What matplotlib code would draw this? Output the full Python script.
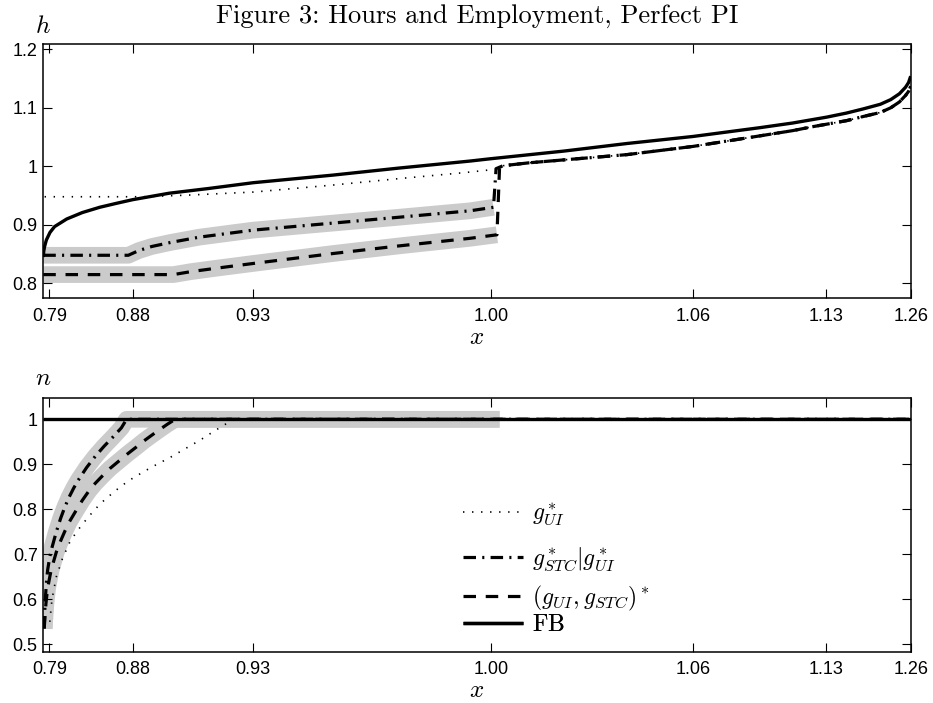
import numpy as np
import matplotlib
matplotlib.use("Agg")
import matplotlib.pyplot as plt
from matplotlib.lines import Line2D

plt.rcParams['font.family'] = ['Liberation Sans', 'DejaVu Sans']
plt.rcParams['mathtext.fontset'] = 'cm'
plt.rcParams['lines.scale_dashes'] = False

# ---------------- data ----------------
# x axis: position along the x grid (0..100), labelled with x values
x_tick_pos = [0.69, 10.34, 24.21, 51.61, 74.94, 90.2, 100.0]
x_tick_labels = ['0.79', '0.88', '0.93', '1.00', '1.06', '1.13', '1.26']

h_ticks = [0.8, 0.9, 1.0, 1.1, 1.2]
h_tick_labels = ['0.8', '0.9', '1', '1.1', '1.2']
n_ticks = [0.5, 0.6, 0.7, 0.8, 0.9, 1.0]
n_tick_labels = ['0.5', '0.6', '0.7', '0.8', '0.9', '1']

# hours, top panel
h_fb_pos = [0, 0.05, 0.15, 0.35, 0.77, 1.3, 2.7, 4.5, 6.5, 8.5, 10.3, 14.5, 19, 24.2,
            33.4, 41, 49.2, 51.6, 60, 67.3, 74.9, 82.6, 86.4, 90.3, 92.6, 94.5, 96.5,
            97.7, 98.7, 99.4, 99.75, 100]
h_fb_val = [0.845, 0.855, 0.863, 0.874, 0.887, 0.897, 0.910, 0.921, 0.930, 0.937, 0.943,
            0.954, 0.962, 0.972, 0.985, 0.997, 1.009, 1.013, 1.026, 1.039, 1.051, 1.066,
            1.074, 1.084, 1.091, 1.098, 1.106, 1.114, 1.124, 1.135, 1.143, 1.154]

# common part of the policy curves above x = 1.00
h_common_pos = [53.0, 56, 60, 67.3, 74.9, 82.6, 86.4, 88.8, 92.6, 94.5, 96.5, 97.7,
                98.7, 99.4, 99.75, 100]
h_common_val = [1.001, 1.006, 1.011, 1.020, 1.034, 1.052, 1.061, 1.068, 1.078, 1.085,
                1.092, 1.100, 1.110, 1.121, 1.128, 1.137]

h_ui_pos = [0.15, 11.5, 17, 24.2, 33.4, 41, 48.4, 52.2]
h_ui_val = [0.948, 0.948, 0.951, 0.956, 0.968, 0.979, 0.989, 0.995]

h_stc_pos = [0, 9.8, 11, 12.5, 14.7, 18, 24.2, 33.4, 41, 49.2, 51.9]
h_stc_val = [0.848, 0.848, 0.856, 0.863, 0.870, 0.879, 0.891, 0.903, 0.913, 0.924, 0.930]
h_stc_jump_pos = [52.2]
h_stc_jump_val = [0.996]

h_joint_pos = [0, 15, 17, 20, 24.2, 33.4, 41, 49.2, 52.3]
h_joint_val = [0.815, 0.815, 0.820, 0.826, 0.834, 0.851, 0.864, 0.877, 0.883]
h_joint_jump_pos = [52.6]
h_joint_jump_val = [0.998]

# employment, bottom panel
n_fb_pos = [0, 100]
n_fb_val = [1.0, 1.0]

n_ui_pos = [0.75, 1.0, 1.5, 2.2, 3.0, 3.8, 4.6, 5.6, 6.6, 7.8, 9.0, 10.3, 11.6, 13.1,
            14.6, 16.3, 18.1, 19.8, 21.5, 22.0, 100]
n_ui_val = [0.55, 0.60, 0.65, 0.69, 0.725, 0.749, 0.769, 0.792, 0.813, 0.833, 0.852,
            0.869, 0.884, 0.900, 0.915, 0.934, 0.954, 0.975, 0.995, 1.0, 1.0]

n_stc_pos = [0.1, 0.2, 0.35, 0.5, 0.75, 1.0, 1.5, 2.0, 2.5, 3.0, 3.5, 4.0, 5.0, 6.0,
             7.0, 8.0, 9.0, 9.6]
n_stc_val = [0.535, 0.59, 0.635, 0.665, 0.695, 0.715, 0.75, 0.78, 0.806, 0.828, 0.847,
             0.864, 0.893, 0.918, 0.940, 0.960, 0.981, 1.0]

n_joint_pos = [0.1, 0.3, 0.5, 0.9, 1.5, 2.0, 2.5, 3.0, 3.8, 4.5, 5.3, 6.0, 6.8, 7.7,
               8.7, 9.7, 10.7, 11.6, 12.6, 13.4, 14.3, 15.2]
n_joint_val = [0.535, 0.59, 0.625, 0.665, 0.705, 0.73, 0.752, 0.772, 0.798, 0.82, 0.842,
               0.858, 0.874, 0.891, 0.907, 0.923, 0.938, 0.952, 0.966, 0.977, 0.989, 1.0]

# extent of the highlighted (grey) region in the bottom panel, and the end of the grid
n_band_end_pos = [52.6]
n_band_end_val = [1.0]
n_grid_end_pos = [100]
n_grid_end_val = [1.0]

labels = [r'$g^*_{UI}$', r'$g^*_{STC}|g^*_{UI}$', r'$(g_{UI},g_{STC})^*$', r'$\mathrm{FB}$']

# ---------------- styles ----------------
band_kw = dict(color='#cbcbcb', lw=12, solid_capstyle='butt', solid_joinstyle='round', zorder=1)
dot_kw = dict(color='black', lw=1.2, dashes=(1.0, 5.5), dash_capstyle='butt', zorder=2)
dd_kw = dict(color='black', lw=2.3, dashes=(9, 4.5, 1.5, 4.5), dash_capstyle='butt', zorder=3)
da_kw = dict(color='black', lw=2.3, dashes=(9, 7), dash_capstyle='butt', zorder=3)
fb_kw = dict(color='black', lw=2.4, solid_capstyle='butt', zorder=4)

fig = plt.figure(figsize=(9.33, 7.03), dpi=100)
ax1 = fig.add_axes([0.04641, 0.57610, 0.92969, 0.36131])
ax2 = fig.add_axes([0.04641, 0.07297, 0.92969, 0.36131])

# top panel
ax1.plot(h_stc_pos, h_stc_val, **band_kw)
ax1.plot(h_joint_pos, h_joint_val, **band_kw)
ax1.plot(h_ui_pos + h_common_pos, h_ui_val + h_common_val, **dot_kw)
ax1.plot(h_stc_pos + h_stc_jump_pos + h_common_pos,
         h_stc_val + h_stc_jump_val + h_common_val, **dd_kw)
ax1.plot(h_joint_pos + h_joint_jump_pos + h_common_pos,
         h_joint_val + h_joint_jump_val + h_common_val, **da_kw)
ax1.plot(h_fb_pos, h_fb_val, **fb_kw)

# bottom panel
ax2.plot(n_stc_pos + n_band_end_pos, n_stc_val + n_band_end_val, **band_kw)
ax2.plot(n_joint_pos + n_band_end_pos, n_joint_val + n_band_end_val, **band_kw)
ax2.plot(n_ui_pos, n_ui_val, **dot_kw)
ax2.plot(n_stc_pos + n_grid_end_pos, n_stc_val + n_grid_end_val, **dd_kw)
ax2.plot(n_joint_pos + n_grid_end_pos, n_joint_val + n_grid_end_val, **da_kw)
ax2.plot(n_fb_pos, n_fb_val, **fb_kw)

for ax in (ax1, ax2):
    ax.set_xlim(0, 100)
    ax.set_xticks(x_tick_pos)
    ax.set_xticklabels(x_tick_labels)
    ax.tick_params(direction='in', top=True, right=True, length=6.2, width=0.8,
                   labelsize=13, color='black')
    ax.tick_params(axis='x', pad=7)
    ax.tick_params(axis='y', pad=4)
    for s in ax.spines.values():
        s.set_linewidth(1.1)
    ax.set_xlabel(r'$x$', fontsize=18, labelpad=0)

ax1.set_ylim(0.775, 1.209)
ax1.set_yticks(h_ticks)
ax1.set_yticklabels(h_tick_labels)
ax2.set_ylim(0.4836, 1.048)
ax2.set_yticks(n_ticks)
ax2.set_yticklabels(n_tick_labels)

ax1.text(-0.0096, 1.043, r'$h$', transform=ax1.transAxes, fontsize=18,
         ha='left', va='baseline')
ax2.text(-0.0096, 1.05, r'$n$', transform=ax2.transAxes, fontsize=18,
         ha='left', va='baseline')

ax1.set_title('Figure 3: Hours and Employment, Perfect PI', fontfamily='cmr10',
              fontsize=19, pad=15)

# legend: one entry per row, rows placed as in the original figure
styles = [dot_kw, dd_kw, da_kw, fb_kw]
row_y = [0.539, 0.362, 0.209, 0.105]
for style, lab, yy in zip(styles, labels, row_y):
    h = Line2D([], [], **{k: v for k, v in style.items() if k != 'zorder'})
    leg = ax2.legend([h], [lab], loc='center left', bbox_to_anchor=(0.484, yy),
                     frameon=False, fontsize=17, handlelength=2.54, handletextpad=0.38,
                     borderpad=0, borderaxespad=0)
    ax2.add_artist(leg)

fig.savefig('out.png', dpi=100)
